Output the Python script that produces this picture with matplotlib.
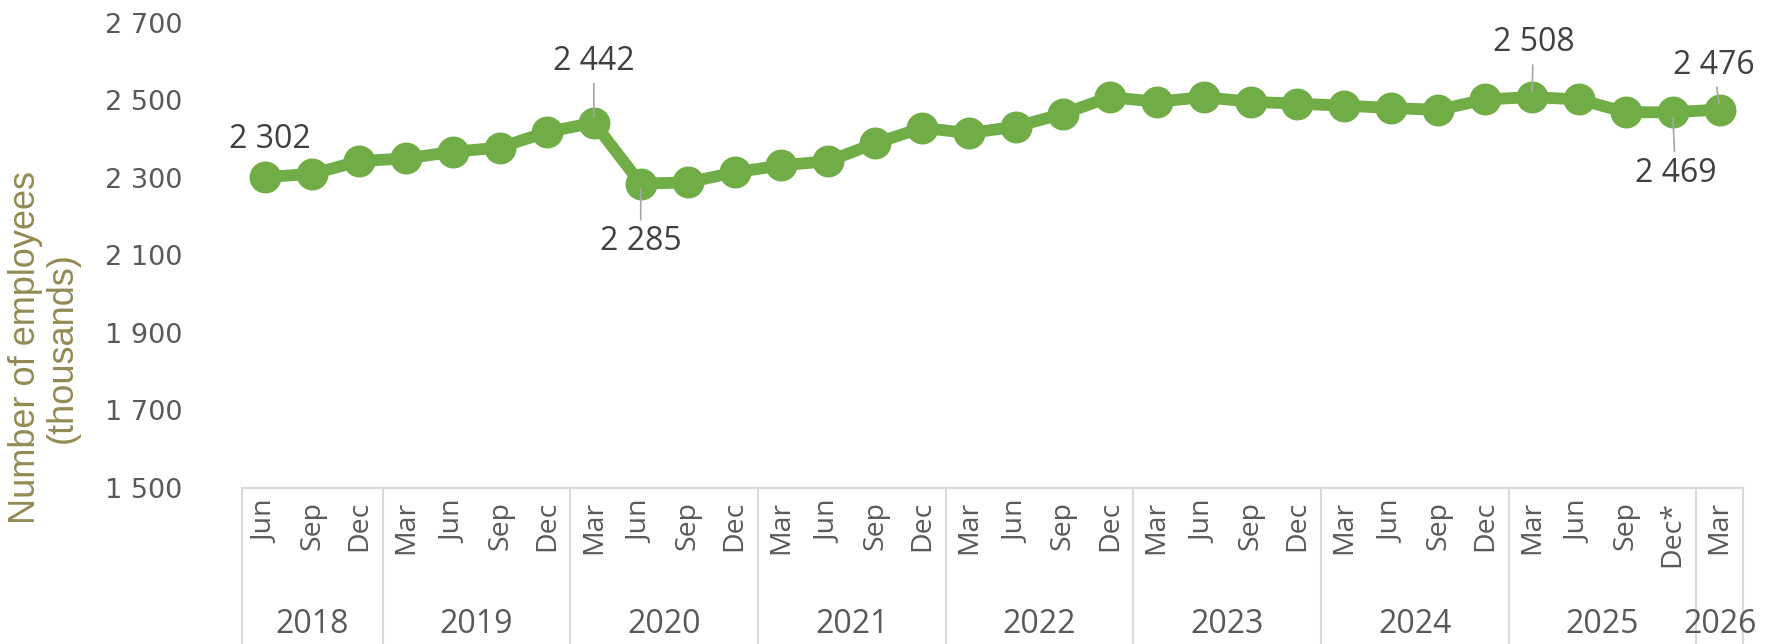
import matplotlib
matplotlib.use("Agg")
import matplotlib.pyplot as plt
import matplotlib.transforms as mtransforms

# quarterly values, Jun 2018 .. Mar 2026 (thousands)
months = ["Jun", "Sep", "Dec",
          "Mar", "Jun", "Sep", "Dec",
          "Mar", "Jun", "Sep", "Dec",
          "Mar", "Jun", "Sep", "Dec",
          "Mar", "Jun", "Sep", "Dec",
          "Mar", "Jun", "Sep", "Dec",
          "Mar", "Jun", "Sep", "Dec",
          "Mar", "Jun", "Sep", "Dec*",
          "Mar"]
years = [2018] * 3 + [2019] * 4 + [2020] * 4 + [2021] * 4 + [2022] * 4 + \
        [2023] * 4 + [2024] * 4 + [2025] * 4 + [2026]
employees = [2302, 2310, 2343, 2350, 2367, 2378, 2418,
             2442, 2285, 2288, 2314,
             2332, 2343, 2389, 2429,
             2415, 2432, 2465, 2508,
             2496, 2508, 2496, 2491,
             2486, 2480, 2475, 2502,
             2508, 2502, 2469, 2469,
             2476]
yticks = [1500, 1700, 1900, 2100, 2300, 2500, 2700]

# which points get a value label: index -> (dx, dy) offset in points, leader line
labelled = {0: (3, 27, False), 7: (0, 44, True), 8: (0, -42, True),
            27: (1, 39, True), 30: (2, -44, True), 31: (-4, 32, True)}

GREEN = "#70AD47"
GREY_TXT = "#595959"
BOX = "#D9D9D9"
FONT = ["Open Sans", "DejaVu Sans"]

fig = plt.figure(figsize=(17.81, 6.44), dpi=100)
ax = fig.add_axes([0.1359, 0.2422, 0.8428, 0.7226])

x = list(range(len(employees)))
ax.plot(x, employees, color=GREEN, lw=8.5, marker="o", ms=22,
        solid_joinstyle="round", zorder=3)

ax.set_xlim(-0.5, len(x) - 0.5)
ax.set_ylim(1500, 2700)
ax.set_yticks(yticks)
ax.set_yticklabels([f"{v // 1000} {v % 1000:03d}" for v in yticks], family="DejaVu Sans")
ax.tick_params(axis="y", length=0, pad=43, labelsize=19.5, labelcolor=GREY_TXT)

ax.set_xticks(x)
ax.set_xticklabels(months, rotation=90, family=FONT)
ax.tick_params(axis="x", length=0, pad=9, labelsize=20.5, labelcolor=GREY_TXT)

for s in ["top", "right", "left"]:
    ax.spines[s].set_visible(False)
ax.spines["bottom"].set_color(BOX)
ax.spines["bottom"].set_linewidth(1.5)

# category box: year separators and year labels
trans = mtransforms.blended_transform_factory(ax.transData, ax.transAxes)
groups = []
for i, yr in enumerate(years):
    if not groups or groups[-1][0] != yr:
        groups.append([yr, i, i])
    else:
        groups[-1][2] = i
bounds = [g[1] - 0.5 for g in groups] + [groups[-1][2] + 0.5]
for b in bounds:
    ax.plot([b, b], [0, -0.34], color=BOX, lw=1.5, transform=trans, clip_on=False)
for yr, a, b in groups:
    ax.text((a + b) / 2, -0.294, str(yr), transform=trans, ha="center", va="center",
            fontsize=23, color=GREY_TXT, family=FONT)

# value labels
for i, (dx, dy, leader) in labelled.items():
    v = employees[i]
    props = dict(arrowstyle="-", color="#A6A6A6", lw=1.2, shrinkA=2, shrinkB=4) if leader else None
    ax.annotate(f"{v // 1000} {v % 1000:03d}", xy=(i, v), xytext=(dx, dy),
                textcoords="offset points", ha="center", va="center",
                fontsize=23, color="#404040", family=FONT,
                arrowprops=props, zorder=4)

fig.text(0.0245, 0.46, "Number of employees\n(thousands)", rotation=90,
         ha="center", va="center", multialignment="center", linespacing=1.07,
         fontsize=26, color="#948A54", family=["Liberation Sans", "DejaVu Sans"])

fig.savefig("out.png", dpi=100)
